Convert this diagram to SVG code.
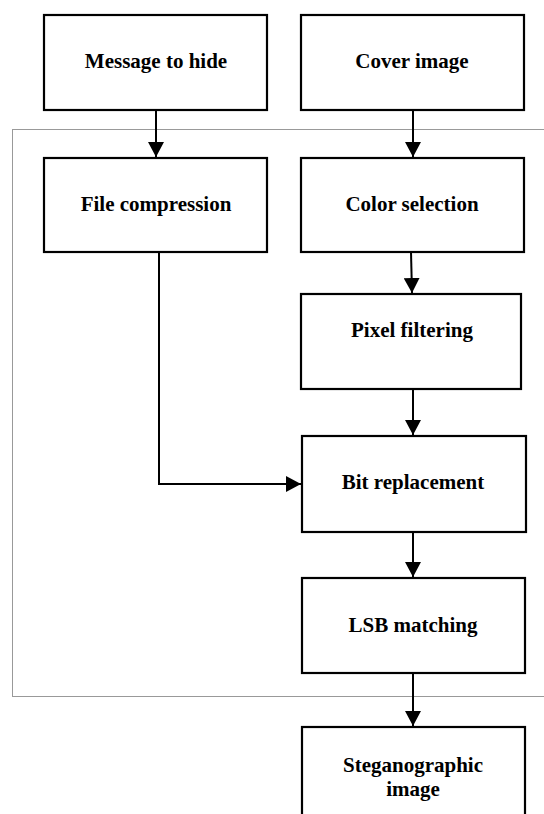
<svg xmlns="http://www.w3.org/2000/svg" width="544" height="814" viewBox="0 0 544 814">
<style>
.box{fill:#fff;stroke:#000;stroke-width:2.2}
.lbl{font-family:"Liberation Serif","Times New Roman",serif;font-weight:bold;font-size:21px;fill:#000;text-anchor:middle}
.conn{fill:none;stroke:#000;stroke-width:2}
</style>
<defs>
<marker id="ah" markerUnits="userSpaceOnUse" markerWidth="15" markerHeight="16" viewBox="0 0 15 16" refX="15" refY="8" orient="auto">
<path d="M0,0 L15,8 L0,16 Z" fill="#000"/>
</marker>
</defs>
<rect x="12.5" y="129.5" width="560" height="567" fill="none" stroke="#333" stroke-width="1" stroke-dasharray="1,1"/>
<g id="connectors">
<line class="conn" x1="156" y1="110" x2="156" y2="157" marker-end="url(#ah)"/>
<line class="conn" x1="413" y1="110" x2="413" y2="157" marker-end="url(#ah)"/>
<line class="conn" x1="411" y1="252" x2="412" y2="293" marker-end="url(#ah)"/>
<line class="conn" x1="413" y1="389" x2="413" y2="435" marker-end="url(#ah)"/>
<polyline class="conn" points="159,252 159,484 301,484" marker-end="url(#ah)"/>
<line class="conn" x1="413" y1="532" x2="413" y2="577" marker-end="url(#ah)"/>
<line class="conn" x1="413" y1="673" x2="413" y2="726" marker-end="url(#ah)"/>
</g>
<g id="n-message"><rect class="box" x="44" y="15" width="223" height="95"/><text class="lbl" x="156" y="68">Message to hide</text></g>
<g id="n-cover"><rect class="box" x="301" y="15" width="223" height="95"/><text class="lbl" x="412" y="68">Cover image</text></g>
<g id="n-filecomp"><rect class="box" x="44" y="158" width="223" height="94"/><text class="lbl" x="156" y="211">File compression</text></g>
<g id="n-colorsel"><rect class="box" x="301" y="158" width="223" height="94"/><text class="lbl" x="412" y="211">Color selection</text></g>
<g id="n-pixel"><rect class="box" x="301" y="294" width="220" height="95"/><text class="lbl" x="412" y="337">Pixel filtering</text></g>
<g id="n-bitrep"><rect class="box" x="302" y="436" width="224" height="96"/><text class="lbl" x="413" y="489">Bit replacement</text></g>
<g id="n-lsb"><rect class="box" x="302" y="578" width="223" height="95"/><text class="lbl" x="413" y="632">LSB matching</text></g>
<g id="n-stego"><rect class="box" x="302" y="727" width="223" height="100"/><text class="lbl" x="413" y="772">Steganographic</text><text class="lbl" x="413" y="796">image</text></g>
</svg>
